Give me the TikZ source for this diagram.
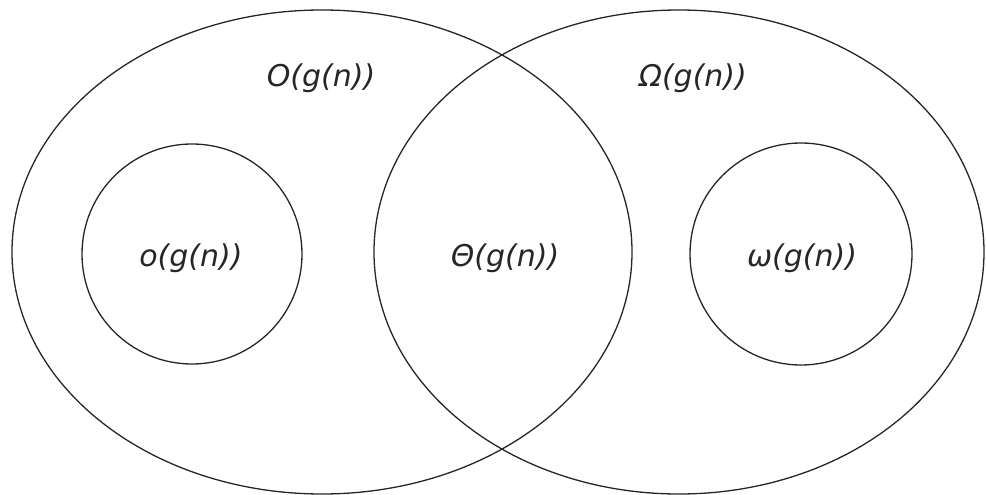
\documentclass[tikz,border=0pt]{standalone}
\usepackage{fontspec}
\setmainfont{DejaVu Sans}
\usetikzlibrary{shapes.geometric}
\begin{document}
\begin{tikzpicture}[x=1pt,y=-1pt,
  setline/.style={draw=black!85, line width=1.3pt},
  bigset/.style={setline, ellipse, inner sep=0pt},
  smallset/.style={setline, circle, inner sep=0pt},
  lab/.style={font=\fontsize{30}{36}\selectfont\itshape, inner sep=0pt, text=black!85}]
\useasboundingbox (0,0) rectangle (986,495);
\node[bigset, minimum width=620pt, minimum height=484pt] (bigO) at (322,252) {};
\node[bigset, minimum width=610pt, minimum height=484pt] (bigOmega) at (679,252) {};
\node[smallset, minimum size=220pt] (smallo) at (192,254) {};
\node[smallset, minimum size=222pt] (smallw) at (801,254) {};
\node[lab] (lO) at (321,78) {O(g(n))};
\node[lab] (lOmega) at (693,78) {Ω(g(n))};
\node[lab] (lo) at (191,258) {o(g(n))};
\node[lab] (lTheta) at (505,258) {Θ(g(n))};
\node[lab] (lw) at (802,258) {ω(g(n))};
\end{tikzpicture}
\end{document}
